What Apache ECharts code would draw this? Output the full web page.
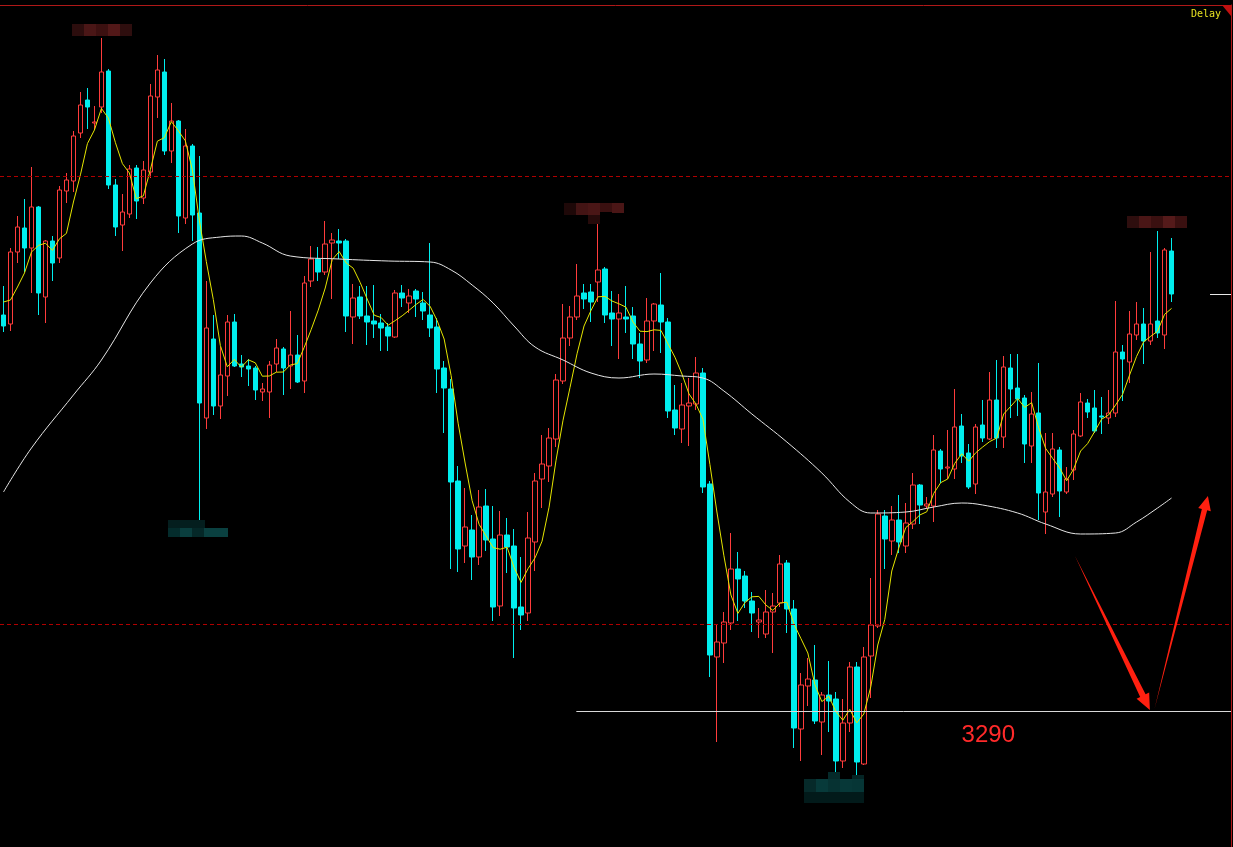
<!DOCTYPE html>
<html><head><meta charset="utf-8">
<script src="https://cdn.jsdelivr.net/npm/echarts/dist/echarts.min.js"></script>
<style>html,body{margin:0;padding:0;background:#000;overflow:hidden}#c{width:1233px;height:847px}</style>
</head><body><div id="c"></div>
<script>
// ---- data ----
const slotCount = 176;
const categories = Array.from({length: slotCount}, (_, i) => 'K' + (i + 1));
// [open, close, low, high]
const candles = [
[3389.00,3386.25,3384.75,3396.25],[3386.75,3404.75,3385.00,3405.75],[3404.75,3411.00,3402.00,3413.75],[3410.75,3405.75,3399.75,3418.00],
[3405.75,3416.00,3394.50,3426.00],[3416.00,3394.50,3389.00,3416.25],[3393.50,3407.50,3387.00,3407.75],[3407.50,3402.00,3397.50,3408.75],
[3403.25,3420.25,3402.00,3421.25],[3420.00,3422.75,3417.00,3424.50],[3422.50,3433.75,3419.75,3435.00],[3434.50,3441.50,3433.25,3444.75],
[3442.75,3441.00,3435.50,3445.75],[3437.00,3437.25,3435.25,3441.25],[3441.00,3449.75,3439.50,3458.25],[3450.00,3421.50,3420.50,3450.50],
[3421.50,3411.00,3408.75,3423.00],[3411.50,3414.75,3405.00,3419.25],[3414.25,3425.50,3413.25,3426.50],[3425.75,3417.50,3413.00,3426.50],
[3418.25,3425.25,3416.75,3427.50],[3424.75,3443.75,3423.25,3446.75],[3443.50,3450.25,3438.25,3454.00],[3449.75,3430.00,3429.00,3453.00],
[3430.00,3437.50,3427.00,3442.00],[3437.50,3413.75,3409.50,3437.75],[3413.25,3431.25,3411.75,3435.50],[3431.25,3414.00,3407.50,3431.75],
[3414.50,3367.00,3337.25,3428.75],[3363.25,3385.75,3360.50,3397.50],[3383.00,3366.25,3364.00,3389.00],[3366.25,3374.00,3363.00,3381.00],
[3373.75,3387.25,3368.75,3389.00],[3387.25,3376.25,3376.00,3389.25],[3376.75,3376.00,3373.50,3379.00],[3376.25,3375.50,3371.25,3378.00],
[3375.75,3370.25,3367.75,3376.25],[3369.75,3370.50,3367.50,3372.00],[3369.75,3376.50,3363.25,3377.50],[3376.75,3380.75,3374.75,3383.00],
[3380.50,3375.75,3369.00,3381.00],[3376.25,3379.00,3370.50,3390.00],[3379.00,3372.25,3372.00,3384.00],[3372.50,3397.00,3369.50,3398.75],
[3397.50,3403.00,3396.00,3406.25],[3403.00,3399.75,3397.50,3406.00],[3399.75,3406.75,3399.00,3412.50],[3407.00,3407.75,3393.00,3409.50],
[3407.50,3407.00,3403.00,3410.50],[3407.50,3388.75,3384.75,3408.00],[3388.50,3393.25,3381.75,3396.75],[3393.50,3388.75,3388.00,3396.25],
[3388.75,3387.25,3381.50,3396.25],[3387.50,3386.75,3383.25,3396.50],[3387.00,3385.75,3380.00,3389.25],[3386.00,3383.75,3380.00,3387.00],
[3383.50,3394.50,3383.25,3395.25],[3394.50,3393.25,3391.00,3396.50],[3392.00,3393.75,3389.50,3395.50],[3395.00,3393.00,3388.50,3395.50],
[3392.00,3390.00,3387.75,3394.75],[3389.00,3385.75,3383.50,3407.00],[3386.00,3375.50,3369.50,3388.25],[3375.75,3370.75,3359.50,3377.50],
[3370.50,3347.25,3325.50,3373.00],[3347.50,3330.50,3324.75,3351.25],[3331.25,3336.00,3327.00,3345.75],[3335.25,3328.50,3322.75,3339.00],
[3328.50,3341.00,3326.50,3345.25],[3341.25,3332.75,3330.00,3345.50],[3333.00,3316.00,3312.50,3341.25],[3316.25,3334.00,3313.75,3340.00],
[3334.00,3331.00,3324.50,3338.25],[3331.25,3315.75,3303.25,3335.50],[3316.00,3314.00,3310.25,3328.50],[3314.50,3333.25,3312.50,3339.75],
[3332.25,3347.50,3325.00,3349.50],[3348.00,3351.75,3340.75,3359.00],[3351.25,3358.25,3347.25,3360.75],[3358.00,3372.75,3356.00,3374.25],
[3372.50,3383.25,3371.75,3391.75],[3383.25,3388.50,3381.25,3391.25],[3388.50,3393.75,3387.75,3401.75],[3394.50,3393.00,3390.50,3396.75],
[3394.75,3392.25,3387.25,3396.75],[3397.25,3400.25,3392.25,3411.75],[3400.50,3389.00,3387.00,3401.00],[3389.50,3388.00,3381.25,3395.00],
[3388.00,3389.50,3378.00,3394.25],[3388.50,3388.00,3384.50,3396.25],[3388.75,3381.75,3378.00,3391.00],[3381.75,3377.50,3373.25,3384.50],
[3377.75,3387.50,3377.00,3393.25],[3387.50,3391.75,3380.00,3392.00],[3391.50,3387.25,3379.50,3399.50],[3387.25,3365.00,3363.25,3388.25],
[3365.25,3360.75,3359.00,3371.50],[3360.50,3366.50,3357.00,3372.00],[3366.25,3367.00,3356.25,3373.25],[3366.75,3374.50,3365.25,3378.50],
[3374.50,3346.00,3344.50,3375.75],[3346.75,3304.00,3298.50,3347.50],[3303.50,3307.25,3282.25,3311.75],[3307.00,3312.25,3302.00,3314.75],
[3312.00,3325.50,3310.25,3334.50],[3325.50,3323.00,3312.50,3329.75],[3323.75,3317.50,3315.75,3325.00],[3317.50,3314.50,3309.75,3319.75],
[3312.25,3312.75,3308.25,3315.75],[3309.25,3314.75,3308.25,3320.25],[3314.75,3316.25,3304.50,3319.50],[3317.00,3326.75,3316.00,3329.00],
[3327.00,3315.50,3309.50,3327.75],[3315.50,3285.75,3280.75,3317.75],[3285.50,3296.50,3277.50,3299.50],[3296.25,3298.00,3291.25,3303.25],
[3297.75,3287.50,3286.75,3306.50],[3287.25,3294.00,3279.00,3294.75],[3294.00,3292.50,3284.75,3302.50],[3293.00,3277.50,3274.50,3294.75],
[3277.50,3287.00,3275.75,3293.00],[3287.00,3301.00,3284.75,3302.25],[3301.00,3277.25,3273.75,3302.25],[3276.75,3303.50,3276.50,3306.00],
[3303.75,3311.50,3293.25,3323.25],[3311.25,3339.25,3310.75,3340.25],[3338.75,3333.00,3325.50,3340.25],[3332.50,3337.75,3329.00,3341.25],
[3337.75,3332.25,3329.50,3344.00],[3331.25,3337.00,3329.50,3342.00],[3336.75,3346.50,3335.50,3349.50],[3346.50,3341.50,3336.75,3346.75],
[3341.25,3341.75,3340.50,3343.50],[3341.25,3355.25,3337.25,3359.00],[3355.00,3350.50,3347.00,3355.50],[3350.75,3351.00,3348.00,3360.25],
[3350.50,3361.00,3348.00,3370.50],[3361.25,3353.75,3352.00,3364.25],[3354.50,3346.00,3345.50,3356.75],[3346.75,3361.00,3344.25,3361.75],
[3361.50,3358.25,3357.25,3367.75],[3358.00,3367.75,3357.75,3374.75],[3367.75,3358.25,3355.75,3377.75],[3358.50,3376.00,3355.75,3378.75],
[3375.75,3370.50,3363.25,3379.25],[3370.75,3368.00,3363.75,3379.25],[3368.25,3356.75,3352.00,3369.00],[3356.25,3364.25,3352.00,3369.75],
[3364.50,3344.50,3337.75,3377.00],[3339.75,3344.75,3334.25,3359.50],[3344.25,3355.50,3343.50,3359.50],[3355.25,3345.00,3338.50,3356.00],
[3344.75,3348.00,3344.25,3351.00],[3350.25,3359.25,3347.75,3360.25],[3358.75,3367.25,3358.50,3369.50],[3367.00,3364.75,3363.25,3368.00],
[3365.75,3360.00,3359.50,3370.25],[3363.75,3363.50,3359.25,3368.50],[3363.25,3364.50,3361.75,3370.25],[3364.50,3379.75,3363.50,3392.50],
[3379.75,3378.00,3367.50,3381.50],[3377.25,3384.25,3372.00,3390.00],[3384.00,3386.75,3382.75,3392.25],[3386.75,3382.50,3376.75,3390.75],
[3382.50,3386.75,3381.50,3404.75],[3387.50,3384.50,3383.25,3410.00],[3384.00,3405.25,3380.50,3405.75],[3405.00,3394.25,3392.25,3408.25]
];
// short moving average (yellow): first values, the rest is the 5-bar average of closes
const ma5Start = [3392.25, 3392.75, 3396.00, 3399.50];
// long moving average (white), read at these bars: [barIndex, value]
const maLongPoints = [
[0,3344.75],[4,3355.75],[10,3369.00],[14,3377.75],[21,3397.00],[27,3406.75],[31,3408.50],[34,3408.75],[37,3407.00],
[41,3403.75],[48,3403.00],[55,3402.50],[61,3402.25],[64,3400.25],[67,3396.50],[70,3392.00],[73,3386.25],[76,3381.00],
[80,3377.75],[84,3374.50],[88,3373.25],[93,3374.25],[97,3373.75],[100,3373.25],[103,3370.00],[107,3364.25],[112,3357.25],
[117,3349.50],[121,3342.25],[124,3339.50],[129,3339.75],[133,3341.00],[137,3342.00],[140,3341.50],[145,3339.50],[149,3336.75],
[154,3334.25],[159,3334.50],[162,3337.25],[165,3340.75],[167,3343.25]
];
const dashedLevels = [3423.75, 3311.75];
const supportLevel = 3290;
const supportStartBar = 81.9;
const supportText = {text: '3290', bar: 140.8, value: 3284};
const arrows = [
  {from: [153.2, 3328.75], to: [163.9, 3290.25]},
  {from: [164.6, 3290.75], to: [172.2, 3343.75]}
];
// pixelated (blurred) extreme labels: centre bar, top value
const blurLabels = [
  {bar: 14.07, value: 3461.75, cells: [[0,0,12,12,'#2c0d0d'],[12,0,12,12,'#4a1616'],[24,0,12,12,'#3c1010'],[36,0,12,12,'#521818'],[48,0,12,12,'#2e0e0e']]},
  {bar: 84.43, value: 3417.0, cells: [[0,0,12,12,'#1e0808'],[12,0,12,12,'#431414'],[24,0,12,12,'#4a1616'],[24,12,12,9,'#260a0a'],[36,0,12,9,'#3a1010'],[48,0,12,10,'#4a1616']]},
  {bar: 164.93, value: 3413.75, cells: [[0,0,12,12,'#2e0e0e'],[12,0,12,12,'#4a1616'],[24,0,12,12,'#3a1010'],[36,0,12,12,'#541a1a'],[48,0,12,12,'#3a1010']]},
  {bar: 27.79, value: 3337.75, cells: [[0,0,37,8,'#041e1e'],[0,8,12,9,'#042c2c'],[12,8,12,9,'#0a3e3e'],[24,8,12,9,'#052828'],[36,8,24,9,'#0a4040']]},
  {bar: 118.71, value: 3274.75, cells: [[24,0,12,7,'#052a2a'],[48,3,12,4,'#042424'],[0,7,12,13,'#062a2a'],[12,7,12,13,'#073a3a'],[24,7,12,13,'#063232'],[36,7,12,13,'#073838'],[48,7,12,13,'#063636'],[0,20,60,11,'#021a1a']]}
];

// ---- derived series ----
const closes = candles.map(c => c[1]);
const ma5 = closes.map((c, i) => {
  if (i < 4) return ma5Start[i];
  let s = 0; for (let k = i - 4; k <= i; k++) s += closes[k];
  return +(s / 5).toFixed(3);
});
const maLong = candles.map(() => null);
maLongPoints.forEach(([i, v]) => { maLong[i] = v; });

const RED = '#ff3c3c', CYAN = '#00eeee';
const chart = echarts.init(document.getElementById('c'), null, {renderer: 'canvas'});
chart.setOption({
  backgroundColor: '#000',
  animation: false,
  grid: {left: 0, right: 2, top: 5, bottom: 0},
  xAxis: {
    type: 'category', data: categories, position: 'top', boundaryGap: true,
    axisLine: {show: true, lineStyle: {color: '#b01818', width: 1}},
    axisTick: {show: false}, axisLabel: {show: false}, splitLine: {show: false}
  },
  yAxis: {
    type: 'value', min: 3256, max: 3466.5, position: 'right',
    axisLine: {show: true, lineStyle: {color: '#b01818', width: 1}},
    axisTick: {show: false}, axisLabel: {show: false}, splitLine: {show: false}
  },
  series: [
    {
      type: 'candlestick', data: candles, barWidth: 5,
      itemStyle: {color: '#000', color0: CYAN, borderColor: RED, borderColor0: CYAN, borderWidth: 1},
      markLine: {
        silent: true, symbol: ['none', 'none'], label: {show: false},
        lineStyle: {color: '#b00000', type: [4, 3], width: 1},
        data: dashedLevels.map(v => ({yAxis: v}))
      }
    },
    {type: 'line', data: ma5, symbol: 'none', lineStyle: {color: '#e6e600', width: 1}, z: 3},
    {type: 'line', data: maLong, symbol: 'none', connectNulls: true, smooth: 0.4, lineStyle: {color: '#e6e6e6', width: 1}, z: 3}
  ]
});

// ---- annotations positioned through the axes ----
function px(bar, value) {
  const a = chart.convertToPixel({gridIndex: 0}, [0, value]);
  const b = chart.convertToPixel({gridIndex: 0}, [1, value]);
  return [a[0] + (b[0] - a[0]) * bar, a[1]];
}
const rightEdge = px(slotCount - 0.5, 3300)[0];
const topEdge = px(0, 3466.5)[1];

function arrowPoly(t, p, w1, hl, hw) {
  const dx = p[0] - t[0], dy = p[1] - t[1], L = Math.hypot(dx, dy);
  const ux = dx / L, uy = dy / L, nx = -uy, ny = ux;
  const bx = p[0] - ux * hl, by = p[1] - uy * hl;
  return [t,
    [bx + nx * w1 / 2, by + ny * w1 / 2], [bx + nx * hw, by + ny * hw], p,
    [bx - nx * hw, by - ny * hw], [bx - nx * w1 / 2, by - ny * w1 / 2]];
}

const g = [];
// support line 3290
const s0 = px(supportStartBar, supportLevel);
g.push({type: 'line', shape: {x1: s0[0], y1: Math.round(s0[1]) + 0.5, x2: rightEdge, y2: Math.round(s0[1]) + 0.5},
  style: {stroke: '#d8d8d8', lineWidth: 1}, z: 5});
// last price marker
const lastClose = closes[closes.length - 1];
const m0 = px(172.5, lastClose);
g.push({type: 'line', shape: {x1: m0[0], y1: Math.round(m0[1]) + 0.5, x2: rightEdge, y2: Math.round(m0[1]) + 0.5},
  style: {stroke: '#e8e8e8', lineWidth: 1}, z: 5});
// 3290 text
const tp = px(supportText.bar, supportText.value);
g.push({type: 'text', x: tp[0], y: tp[1], z: 6,
  style: {text: supportText.text, fill: '#ff2a2a', font: '24px "Liberation Sans", Arial, sans-serif', textAlign: 'center', textVerticalAlign: 'middle'}});
// arrows
arrows.forEach((a, k) => {
  const t = px(a.from[0], a.from[1]), p = px(a.to[0], a.to[1]);
  g.push({type: 'polygon', z: 6, shape: {points: arrowPoly(t, p, k === 0 ? 6 : 5.5, k === 0 ? 16 : 14, k === 0 ? 7 : 6.5)},
    style: {fill: '#ff2010', stroke: null}});
});
// blurred labels
blurLabels.forEach(b => {
  const c = px(b.bar, b.value);
  const left = Math.round(c[0] - 30), top = Math.round(c[1]);
  b.cells.forEach(([dx, dy, w, h, col]) => {
    g.push({type: 'rect', z: 4, shape: {x: left + dx, y: top + dy, width: w, height: h}, style: {fill: col}});
  });
});
// corner triangle and Delay text
g.push({type: 'polygon', z: 7, shape: {points: [[rightEdge - 9, topEdge], [rightEdge, topEdge], [rightEdge, topEdge + 11]]}, style: {fill: '#c01010'}});
g.push({type: 'text', z: 7, x: rightEdge - 10, y: topEdge + 9,
  style: {text: 'Delay', fill: '#e6e020', font: '10px "DejaVu Sans Mono", monospace', textAlign: 'right', textVerticalAlign: 'middle'}});

chart.setOption({graphic: g});
</script>
</body></html>
